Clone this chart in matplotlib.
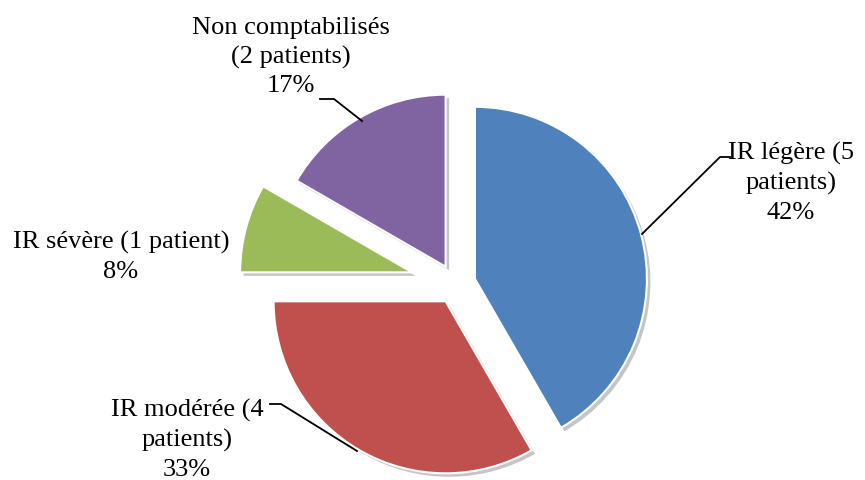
import matplotlib
matplotlib.use("Agg")
import matplotlib.pyplot as plt
import matplotlib.patheffects as pe

# chart data
categories = ["IR légère (5\npatients)", "IR modérée (4\npatients)",
              "IR sévère (1 patient)", "Non comptabilisés\n(2 patients)"]
patients = [5, 4, 1, 2]
percent_labels = ["42%", "33%", "8%", "17%"]
colors = ["#4F81BD", "#C0504D", "#9BBB59", "#8064A2"]

W, H = 865, 481
fig = plt.figure(figsize=(W / 100, H / 100), dpi=100)
ax = fig.add_axes([0, 0, 1, 1])

cx, cy, r = 455.6, H - 285, 172
# explode offsets are in data units (pixels here)
explode = [20, 20, 45, 20]
wedges, _ = ax.pie(patients, colors=colors, startangle=90, counterclock=False,
                   explode=explode, center=(cx, cy), radius=r, frame=True,
                   wedgeprops=dict(edgecolor="white", linewidth=1.5))
for w in wedges:
    w.set_path_effects([pe.SimplePatchShadow(offset=(2.5, -2.5), shadow_rgbFace="#7f7f7f", alpha=0.45),
                        pe.Normal()])
ax.set_xlim(0, W)
ax.set_ylim(0, H)
ax.set_aspect("equal")
ax.axis("off")

font = dict(family="Liberation Serif", fontsize=19, ha="center", va="center",
            linespacing=1.4, color="black")

# label centres and leader lines (image pixel coords, y down)
label_pos = [(791, 183), (187, 440), (121, 257), (291, 57)]
leaders = [[(730, 158), (720, 158), (642, 235)],
           [(270, 405), (281, 405), (357, 452)],
           None,
           [(320, 100), (334, 100), (362, 122)]]

for cat, pct, (x, y), ld in zip(categories, percent_labels, label_pos, leaders):
    ax.text(x, H - y, f"{cat}\n{pct}", **font)
    if ld:
        ax.plot([p[0] for p in ld], [H - p[1] for p in ld], color="black", lw=1.3)

fig.savefig("out.png", dpi=100)
